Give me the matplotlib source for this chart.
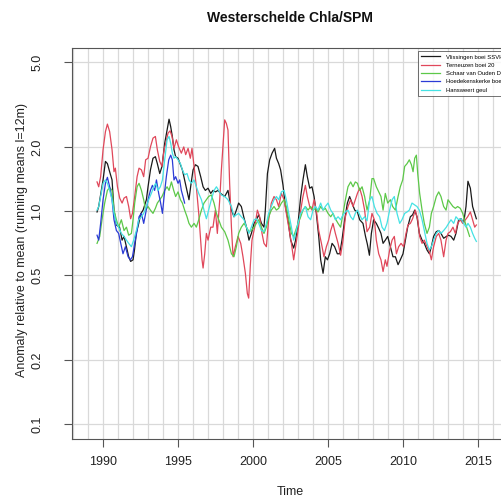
import numpy as np
import matplotlib
matplotlib.use("Agg")
import matplotlib.pyplot as plt

plt.rcParams['font.family'] = ['Liberation Sans', 'DejaVu Sans']

# station names, as in the legend
names = ["Vlissingen boei SSVH", "Terneuzen boei 20", "Schaar van Ouden Doel",
         "Hoedekenskerke boei 41", "Hansweert geul"]
colors = ["#1a1a1a", "#e0475a", "#5cc848", "#2b3bd6", "#45e2e4"]

# Vlissingen (black)
t_vl = [1989.6, 1989.71, 1989.82, 1990.0, 1990.16, 1990.29, 1990.44, 1990.6, 1990.73, 1990.89,
        1991.1, 1991.27, 1991.4, 1991.56, 1991.71, 1991.84, 1992.0, 1992.1, 1992.22, 1992.38,
        1992.51, 1992.67, 1992.89, 1993.0, 1993.16, 1993.33, 1993.49, 1993.62, 1993.78, 1993.93,
        1994.11, 1994.27, 1994.4, 1994.51, 1994.62, 1994.73, 1994.84, 1995.0, 1995.16, 1995.29,
        1995.44, 1995.6, 1995.73, 1995.84, 1996.0, 1996.16, 1996.33, 1996.51, 1996.67, 1996.82,
        1997.0, 1997.18, 1997.33, 1997.49, 1997.67, 1997.84, 1998.11, 1998.33, 1998.56, 1998.73,
        1998.89, 1999.04, 1999.22, 1999.38, 1999.56, 1999.73, 1999.89, 2000.07, 2000.22, 2000.38,
        2000.56, 2000.73, 2000.82, 2000.96, 2001.11, 2001.27, 2001.44, 2001.56, 2001.71, 2001.84,
        2002.0, 2002.16, 2002.33, 2002.51, 2002.71, 2002.84, 2003.0, 2003.18, 2003.33, 2003.49,
        2003.62, 2003.78, 2003.93, 2004.07, 2004.22, 2004.38, 2004.51, 2004.67, 2004.82, 2004.96,
        2005.11, 2005.27, 2005.44, 2005.62, 2005.78, 2005.93, 2006.11, 2006.29, 2006.44, 2006.6,
        2006.78, 2006.96, 2007.11, 2007.33, 2007.5, 2007.62, 2007.76, 2007.89, 2008.04, 2008.22,
        2008.38, 2008.53, 2008.67, 2008.82, 2008.98, 2009.16, 2009.33, 2009.49, 2009.67, 2009.82,
        2010.0, 2010.16, 2010.31, 2010.49, 2010.64, 2010.78, 2010.93, 2011.09, 2011.27, 2011.42,
        2011.6, 2011.76, 2011.89, 2012.04, 2012.22, 2012.38, 2012.53, 2012.71, 2012.89, 2013.04,
        2013.2, 2013.38, 2013.53, 2013.71, 2013.87, 2014.04, 2014.2, 2014.33, 2014.49, 2014.64,
        2014.78, 2014.89]
v_vl = [0.99, 1.05, 1.17, 1.40, 1.71, 1.67, 1.53, 1.40, 1.01, 0.86,
        0.84, 0.73, 0.76, 0.68, 0.61, 0.58, 0.59, 0.66, 0.79, 0.875,
        0.97, 1.01, 1.13, 1.30, 1.56, 1.77, 1.80, 1.67, 1.50, 1.62,
        2.08, 2.40, 2.70, 2.49, 2.24, 1.94, 1.80, 1.77, 1.65, 1.56,
        1.40, 1.25, 1.13, 1.30, 1.56, 1.65, 1.62, 1.45, 1.30, 1.25,
        1.28, 1.21, 1.25, 1.23, 1.25, 1.21, 1.17, 1.25, 1.01, 0.94,
        1.01, 1.09, 1.05, 0.94, 0.84, 0.73, 0.785, 0.875, 0.91, 0.96,
        0.875, 0.84, 1.01, 1.50, 1.74, 1.87, 1.97, 1.77, 1.67, 1.56,
        1.32, 1.05, 0.91, 0.73, 0.67, 0.73, 0.875, 1.17, 1.40, 1.65,
        1.45, 1.28, 1.30, 1.17, 0.975, 0.76, 0.59, 0.51, 0.61, 0.59,
        0.63, 0.705, 0.68, 0.63, 0.63, 0.73, 0.91, 1.09, 1.17, 1.09,
        1.01, 0.99, 0.91, 0.875, 0.76, 0.70, 0.62, 0.785, 0.91, 0.875,
        0.83, 0.785, 0.705, 0.73, 0.76, 0.68, 0.61, 0.61, 0.56, 0.59,
        0.63, 0.73, 0.84, 0.94, 0.96, 1.01, 0.94, 0.785, 0.73, 0.705,
        0.656, 0.63, 0.68, 0.76, 0.80, 0.81, 0.785, 0.745, 0.76, 0.77,
        0.76, 0.73, 0.785, 0.91, 0.92, 0.875, 1.05, 1.38, 1.28, 1.05,
        0.975, 0.92]

# Terneuzen (red)
t_te = [1989.6, 1989.71, 1989.84, 1990.0, 1990.16, 1990.29, 1990.44, 1990.6, 1990.73, 1990.82,
        1990.96, 1991.11, 1991.27, 1991.4, 1991.56, 1991.71, 1991.84, 1991.96, 1992.11, 1992.27,
        1992.4, 1992.56, 1992.71, 1992.84, 1993.0, 1993.16, 1993.33, 1993.49, 1993.62, 1993.78,
        1993.93, 1994.07, 1994.18, 1994.33, 1994.47, 1994.6, 1994.73, 1994.89, 1995.04, 1995.22,
        1995.38, 1995.51, 1995.67, 1995.82, 1995.93, 1996.07, 1996.22, 1996.38, 1996.51, 1996.6,
        1996.67, 1996.78, 1996.89, 1997.0, 1997.18, 1997.33, 1997.49, 1997.62, 1997.78, 1997.89,
        1998.02, 1998.11, 1998.22, 1998.33, 1998.44, 1998.56, 1998.67, 1998.82, 1999.0, 1999.18,
        1999.33, 1999.49, 1999.62, 1999.71, 1999.82, 1999.93, 2000.11, 2000.29, 2000.44, 2000.6,
        2000.73, 2000.89, 2001.04, 2001.22, 2001.4, 2001.56, 2001.71, 2001.89, 2002.07, 2002.22,
        2002.38, 2002.56, 2002.71, 2002.84, 2003.0, 2003.18, 2003.33, 2003.49, 2003.62, 2003.78,
        2003.93, 2004.07, 2004.22, 2004.38, 2004.56, 2004.73, 2004.89, 2005.04, 2005.18, 2005.33,
        2005.49, 2005.67, 2005.84, 2006.0, 2006.16, 2006.33, 2006.51, 2006.67, 2006.82, 2006.96,
        2007.11, 2007.27, 2007.44, 2007.6, 2007.78, 2007.93, 2008.09, 2008.22, 2008.38, 2008.53,
        2008.67, 2008.82, 2008.93, 2009.11, 2009.27, 2009.42, 2009.56, 2009.71, 2009.87, 2010.04,
        2010.2, 2010.33, 2010.49, 2010.64, 2010.82, 2010.98, 2011.11, 2011.27, 2011.42, 2011.6,
        2011.76, 2011.89, 2012.04, 2012.22, 2012.38, 2012.53, 2012.71, 2012.87, 2013.0, 2013.16,
        2013.33, 2013.49, 2013.64, 2013.82, 2013.98, 2014.16, 2014.31, 2014.49, 2014.64, 2014.78,
        2014.89]
v_te = [1.37, 1.30, 1.45, 1.94, 2.36, 2.56, 2.36, 1.94, 1.53, 1.59,
        1.30, 1.15, 1.09, 1.15, 1.17, 1.05, 0.92, 0.975, 1.17, 1.45,
        1.59, 1.56, 1.45, 1.74, 1.77, 2.0, 2.20, 2.24, 1.94, 1.71,
        1.62, 1.94, 2.08, 2.32, 2.38, 2.24, 1.97, 2.16, 2.0, 1.87,
        2.0, 1.84, 1.97, 1.77, 1.97, 1.62, 1.30, 0.975, 0.73, 0.59,
        0.54, 0.63, 0.785, 0.73, 0.84, 0.84, 1.01, 0.785, 1.13, 1.56,
        2.16, 2.68, 2.58, 2.40, 1.35, 0.84, 0.61, 0.68, 0.76, 0.705,
        0.61, 0.51, 0.41, 0.39, 0.555, 0.73, 0.84, 1.01, 0.94, 0.785,
        0.705, 0.68, 0.91, 1.09, 1.17, 1.13, 1.05, 1.21, 1.13, 0.975,
        0.84, 0.705, 0.59, 0.68, 0.81, 1.01, 1.17, 1.32, 1.17, 1.05,
        1.01, 1.13, 1.01, 0.81, 0.705, 0.61, 0.68, 0.73, 0.81, 0.875,
        0.785, 0.705, 0.62, 0.73, 0.94, 1.05, 1.13, 1.05, 1.13, 1.21,
        1.28, 1.17, 1.01, 0.80, 0.84, 0.975, 0.91, 0.73, 0.63, 0.59,
        0.52, 0.59, 0.55, 0.656, 0.73, 0.76, 0.63, 0.68, 0.705, 0.68,
        0.785, 0.86, 0.875, 0.92, 1.01, 0.91, 0.76, 0.705, 0.73, 0.68,
        0.645, 0.59, 0.68, 0.76, 0.785, 0.73, 0.61, 0.73, 0.785, 0.80,
        0.84, 0.785, 0.875, 0.91, 0.875, 0.91, 0.94, 0.99, 0.91, 0.84,
        0.86]

# Schaar van Ouden Doel (green)
t_sc = [1989.6, 1989.78, 1989.93, 1990.11, 1990.29, 1990.44, 1990.6, 1990.73, 1990.89, 1991.04,
        1991.22, 1991.4, 1991.56, 1991.71, 1991.89, 1992.0, 1992.11, 1992.27, 1992.4, 1992.56,
        1992.71, 1992.84, 1993.0, 1993.16, 1993.33, 1993.49, 1993.62, 1993.78, 1993.93, 1994.11,
        1994.27, 1994.4, 1994.56, 1994.71, 1994.84, 1995.0, 1995.16, 1995.29, 1995.44, 1995.6,
        1995.73, 1995.89, 1996.07, 1996.22, 1996.38, 1996.56, 1996.73, 1996.89, 1997.04, 1997.22,
        1997.4, 1997.56, 1997.71, 1997.89, 1998.11, 1998.33, 1998.56, 1998.73, 1998.89, 1999.04,
        1999.22, 1999.4, 1999.56, 1999.73, 1999.89, 2000.07, 2000.22, 2000.38, 2000.56, 2000.73,
        2000.89, 2001.04, 2001.22, 2001.4, 2001.56, 2001.71, 2001.89, 2002.07, 2002.22, 2002.38,
        2002.56, 2002.71, 2002.84, 2003.0, 2003.18, 2003.33, 2003.49, 2003.67, 2003.84, 2004.0,
        2004.16, 2004.33, 2004.51, 2004.67, 2004.82, 2005.0, 2005.18, 2005.33, 2005.49, 2005.67,
        2005.84, 2006.0, 2006.16, 2006.33, 2006.51, 2006.67, 2006.82, 2006.96, 2007.11, 2007.27,
        2007.44, 2007.6, 2007.78, 2007.93, 2008.04, 2008.22, 2008.38, 2008.53, 2008.67, 2008.82,
        2008.98, 2009.16, 2009.31, 2009.49, 2009.67, 2009.82, 2009.98, 2010.11, 2010.27, 2010.42,
        2010.56, 2010.67, 2010.78, 2010.89, 2010.98, 2011.11, 2011.27, 2011.42, 2011.6, 2011.76,
        2011.89, 2012.04, 2012.22, 2012.38, 2012.53, 2012.71, 2012.87, 2013.0, 2013.16, 2013.33,
        2013.49, 2013.64, 2013.82, 2013.98, 2014.16, 2014.31, 2014.44]
v_sc = [0.705, 0.76, 0.91, 1.09, 1.25, 1.29, 1.25, 1.01, 0.91, 0.84,
        0.91, 0.81, 0.84, 0.77, 0.785, 0.91, 1.09, 1.30, 1.35, 1.25,
        1.13, 1.01, 1.05, 1.01, 0.975, 1.03, 1.09, 1.13, 1.17, 1.25,
        1.30, 1.25, 1.37, 1.25, 1.17, 1.23, 1.13, 1.09, 1.01, 0.94,
        0.875, 0.84, 0.875, 0.84, 0.91, 1.01, 1.09, 1.13, 1.17, 1.19,
        1.09, 0.975, 0.91, 0.84, 0.80, 0.73, 0.63, 0.61, 0.68, 0.785,
        0.84, 0.875, 0.84, 0.80, 0.81, 0.84, 0.875, 0.91, 0.84, 0.785,
        0.84, 0.94, 1.01, 1.05, 1.01, 1.03, 1.09, 1.13, 1.05, 0.91,
        0.785, 0.76, 0.81, 0.875, 0.94, 1.01, 1.05, 1.01, 1.05, 1.01,
        1.03, 0.99, 1.05, 1.01, 1.03, 0.975, 0.94, 0.975, 0.92, 0.875,
        0.84, 0.975, 1.13, 1.30, 1.37, 1.30, 1.37, 1.35, 1.25, 1.30,
        1.17, 1.01, 1.13, 1.42, 1.42, 1.30, 1.23, 1.17, 1.01, 1.21,
        1.09, 1.13, 1.05, 1.01, 1.17, 1.30, 1.40, 1.62, 1.67, 1.74,
        1.65, 1.53, 1.77, 1.83, 1.50, 1.21, 1.01, 0.875, 0.785, 0.84,
        0.975, 1.05, 1.17, 1.23, 1.17, 1.05, 1.01, 1.13, 1.09, 1.05,
        1.03, 1.05, 1.03, 0.975, 0.875, 0.81, 0.76]

# Hoedekenskerke (blue), only the early years
t_ho = [1989.6, 1989.71, 1989.84, 1990.0, 1990.16, 1990.29, 1990.44, 1990.6, 1990.73, 1990.89,
        1991.04, 1991.18, 1991.33, 1991.49, 1991.67, 1991.82, 1991.96, 1992.11, 1992.27, 1992.4,
        1992.56, 1992.71, 1992.84, 1993.0, 1993.16, 1993.29, 1993.44, 1993.56, 1993.71, 1993.84,
        1993.96, 1994.07, 1994.22, 1994.38, 1994.51, 1994.62, 1994.73, 1994.84, 1995.0, 1995.11,
        1995.22, 1995.33, 1995.44]
v_ho = [0.77, 0.73, 0.875, 1.13, 1.35, 1.44, 1.30, 1.13, 0.91, 0.81,
        0.785, 0.705, 0.63, 0.68, 0.61, 0.59, 0.61, 0.705, 0.81, 0.94,
        0.975, 0.875, 0.975, 1.13, 1.25, 1.32, 1.25, 1.40, 1.21, 1.09,
        0.975, 1.17, 1.45, 1.74, 1.83, 1.74, 1.40, 1.45, 1.35, 1.40,
        1.25, 1.17, 1.09]

# Hansweert (cyan)
t_ha = [1989.6, 1989.71, 1989.84, 1990.0, 1990.16, 1990.29, 1990.44, 1990.6, 1990.73, 1990.89,
        1991.04, 1991.22, 1991.4, 1991.56, 1991.71, 1991.89, 1992.04, 1992.22, 1992.38, 1992.56,
        1992.71, 1992.89, 1993.04, 1993.22, 1993.38, 1993.51, 1993.67, 1993.82, 1993.96, 1994.11,
        1994.27, 1994.4, 1994.51, 1994.62, 1994.73, 1994.84, 1995.0, 1995.16, 1995.29, 1995.44,
        1995.6, 1995.73, 1995.89, 1996.07, 1996.22, 1996.38, 1996.56, 1996.73, 1996.89, 1997.04,
        1997.22, 1997.4, 1997.56, 1997.71, 1997.89, 1998.11, 1998.33, 1998.56, 1998.73, 1998.89,
        1999.04, 1999.22, 1999.4, 1999.56, 1999.73, 1999.89, 2000.07, 2000.22, 2000.38, 2000.56,
        2000.73, 2000.89, 2001.04, 2001.22, 2001.4, 2001.56, 2001.71, 2001.89, 2002.07, 2002.22,
        2002.38, 2002.56, 2002.71, 2002.84, 2003.0, 2003.18, 2003.33, 2003.49, 2003.67, 2003.84,
        2004.0, 2004.16, 2004.33, 2004.51, 2004.67, 2004.82, 2005.0, 2005.18, 2005.33, 2005.49,
        2005.67, 2005.84, 2006.0, 2006.16, 2006.33, 2006.51, 2006.67, 2006.82, 2006.96, 2007.11,
        2007.27, 2007.44, 2007.6, 2007.78, 2007.93, 2008.09, 2008.27, 2008.44, 2008.6, 2008.76,
        2008.93, 2009.11, 2009.27, 2009.42, 2009.6, 2009.78, 2009.93, 2010.11, 2010.27, 2010.42,
        2010.6, 2010.76, 2010.93, 2011.09, 2011.27, 2011.42, 2011.6, 2011.76, 2011.89, 2012.04,
        2012.22, 2012.38, 2012.53, 2012.71, 2012.89, 2013.04, 2013.2, 2013.38, 2013.53, 2013.71,
        2013.87, 2014.04, 2014.2, 2014.33, 2014.49, 2014.64, 2014.78, 2014.89]
v_ha = [1.01, 1.05, 1.17, 1.35, 1.40, 1.35, 1.25, 1.13, 0.975, 0.875,
        0.84, 0.785, 0.76, 0.73, 0.705, 0.68, 0.73, 0.81, 0.91, 0.94,
        0.975, 1.05, 1.13, 1.21, 1.30, 1.35, 1.25, 1.30, 1.40, 1.74,
        2.16, 2.24, 2.08, 1.87, 1.77, 1.80, 1.74, 1.67, 1.56, 1.48,
        1.50, 1.40, 1.35, 1.40, 1.30, 1.21, 1.13, 1.01, 0.92, 1.01,
        1.13, 1.25, 1.30, 1.25, 1.19, 1.17, 1.13, 1.05, 0.94, 0.96,
        0.975, 0.94, 0.91, 0.84, 0.785, 0.84, 0.91, 0.92, 0.875, 0.81,
        0.80, 0.875, 0.975, 1.05, 1.13, 1.17, 1.13, 1.23, 1.25, 1.13,
        0.975, 0.84, 0.73, 0.785, 0.875, 0.975, 1.01, 1.05, 0.94, 0.91,
        1.01, 1.05, 1.01, 1.09, 1.01, 1.05, 1.09, 1.01, 0.975, 0.91,
        0.94, 0.91, 0.96, 0.99, 1.01, 0.94, 0.91, 0.975, 1.01, 0.96,
        0.91, 0.94, 0.90, 1.13, 1.17, 1.05, 0.975, 0.94, 0.84, 0.81,
        0.875, 1.01, 1.13, 1.17, 0.975, 0.875, 0.91, 0.975, 0.99, 1.01,
        1.09, 1.07, 1.05, 1.01, 0.91, 0.81, 0.705, 0.656, 0.68, 0.73,
        0.785, 0.81, 0.785, 0.81, 0.84, 0.875, 0.91, 0.875, 0.94, 0.91,
        0.92, 0.875, 0.84, 0.875, 0.84, 0.785, 0.745, 0.72]

times = [t_vl, t_te, t_sc, t_ho, t_ha]
values = [v_vl, v_te, v_sc, v_ho, v_ha]

year_ticks = [1990, 1995, 2000, 2005, 2010, 2015]
y_ticks = [0.1, 0.2, 0.5, 1.0, 2.0, 5.0]
y_labels = ["0.1", "0.2", "0.5", "1.0", "2.0", "5.0"]

fig = plt.figure(figsize=(5.02, 5.03), dpi=100)
# axes box runs past the right edge, as in the cropped original
ax = fig.add_axes([72 / 502, 64 / 503, 451 / 502, 391 / 503])
ax.set_yscale('log')
ax.set_xlim(1987.93, 2018.0)
ax.set_ylim(0.085, 5.83)

for yr in range(1988, 2018):
    ax.axvline(yr, color='#d9d9d9', lw=0.9, zorder=0)
for yv in y_ticks:
    ax.axhline(yv, color='#d9d9d9', lw=0.9, zorder=0)

for t, v, c, n in zip(times, values, colors, names):
    ax.plot(t, v, color=c, lw=0.9, label=n)

ax.set_xticks(year_ticks)
ax.set_xticklabels([str(y) for y in year_ticks])
ax.set_yticks(y_ticks)
ax.set_yticklabels(y_labels, rotation=90, va='center')
ax.minorticks_off()
ax.tick_params(axis='x', length=5.5, width=0.8, color='#555555', pad=7,
               labelsize=9, labelcolor='#222222')
ax.tick_params(axis='y', length=5.5, width=0.8, color='#555555', pad=15,
               labelsize=9, labelcolor='#222222')
for s in ax.spines.values():
    s.set_color('#555555')
    s.set_linewidth(0.8)

leg = ax.legend(loc='upper left', bbox_to_anchor=(415 / 502, 1 - 48 / 503),
                bbox_transform=fig.transFigure, fontsize=4.2, frameon=True,
                fancybox=False, edgecolor='#333333', handlelength=3.2,
                handletextpad=1.0, labelspacing=0.55, borderpad=0.6)
leg.get_frame().set_linewidth(0.6)

fig.text(290 / 502, 1 - 18 / 503, "Westerschelde Chla/SPM", ha='center', va='center',
         fontsize=10, fontweight='bold', color='#111111')
fig.text(290 / 502, 1 - 492 / 503, "Time", ha='center', va='center', fontsize=9,
         color='#222222')
fig.text(22 / 502, 1 - 240 / 503, "Anomaly relative to mean (running means l=12m)",
         ha='center', va='center', rotation=90, fontsize=9, color='#222222')

fig.savefig("out.png", dpi=100)
